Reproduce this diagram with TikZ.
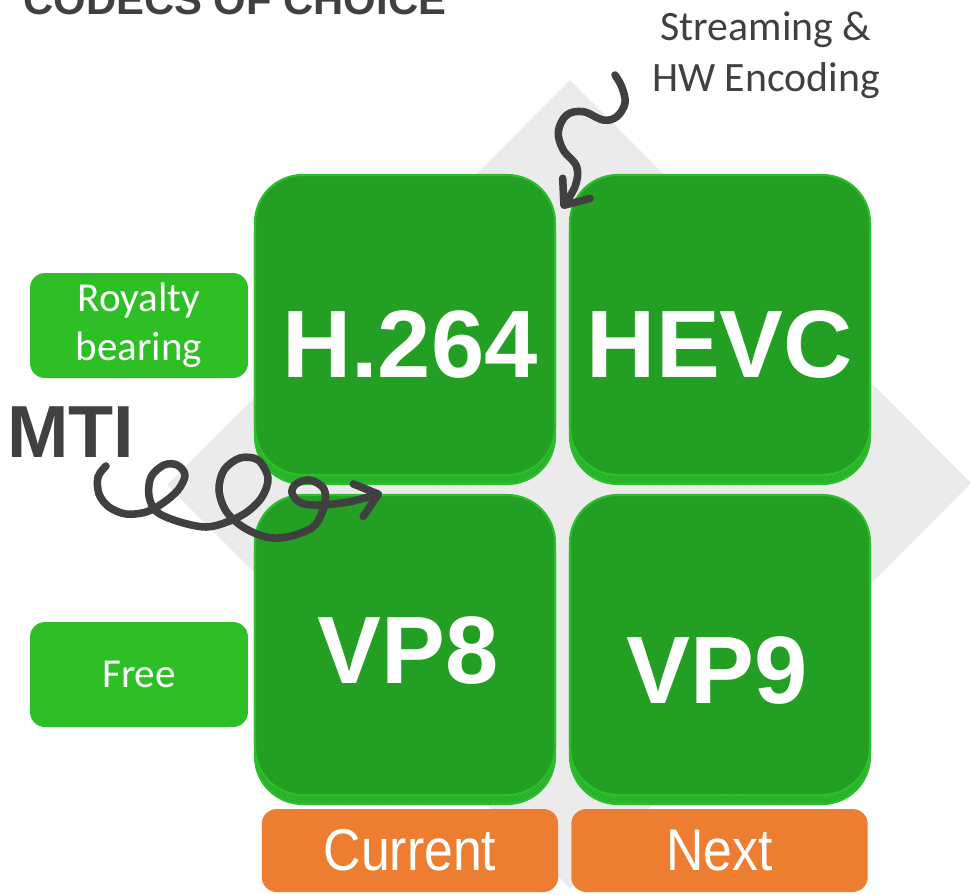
\documentclass[tikz,border=0pt]{standalone}
\usepackage{fontspec}
\setmainfont{Carlito}
\newfontfamily\boldsans{Liberation Sans}
\newfontfamily\narrowsans[FakeStretch=0.88]{Liberation Sans}
\usepackage{tikz}
\usetikzlibrary{arrows.meta, patterns}
\definecolor{codecgreen}{HTML}{23A023}
\definecolor{codecrim}{HTML}{2DBE2D}
\definecolor{codeclow}{HTML}{29B029}
\definecolor{tagfill}{HTML}{2EBF27}
\definecolor{stagefill}{HTML}{ED7D31}
\definecolor{backdrop}{HTML}{EBEBEB}
\definecolor{ink}{HTML}{404040}

\begin{document}
\begin{tikzpicture}[
    x=0.02cm, y=-0.02cm,
    codec/.style={rectangle, rounded corners=0.95cm, minimum width=6cm, minimum height=6cm,
        inner sep=0pt, fill=codecgreen, draw=codecrim, line width=1.2pt,
        preaction={fill=codeclow, draw=codecrim, transform canvas={yshift=-0.18cm}},
        preaction={pattern=north east lines, pattern color=codecrim, transform canvas={yshift=-0.18cm}}},
    codecname/.style={inner sep=0pt, text=white, font=\boldsans\bfseries\fontsize{54.5pt}{62pt}\selectfont},
    tag/.style={rectangle, rounded corners=0.3cm, fill=tagfill, minimum width=4.36cm,
        minimum height=2.1cm, text=white, align=center, font=\fontsize{23.4pt}{28pt}\selectfont},
    stage/.style={rectangle, rounded corners=0.3cm, fill=stagefill, minimum width=5.93cm,
        minimum height=1.66cm, text=white, font=\narrowsans\fontsize{33.5pt}{40pt}\selectfont},
    squiggle/.style={draw=ink, line width=4.3pt, line cap=round, line join=round,
        -{Straight Barb[length=0.42cm, width=0.68cm, round]}}
]
    \useasboundingbox (0,0) rectangle (971,894);

    % backdrop diamond
    \fill[backdrop] (570,80) -- (971,483) -- (570,888) -- (167,485) -- cycle;

    % heading, cut by the page edge
    \node[anchor=base west, inner sep=0pt, text=ink,
          font=\boldsans\bfseries\fontsize{23.8pt}{28pt}\selectfont] (title) at (23,14) {CODECS OF CHOICE};

    % the 2x2 grid
    \node[codec] (h264) at (405,325) {};
    \node[codec] (hevc) at (720,325) {};
    \node[codec] (vp8) at (405,645) {};
    \node[codec] (vp9) at (720,645) {};
    \node[codecname] (h264name) at (410,345) {H.264};
    \node[codecname] (hevcname) at (720,345) {HEVC};
    \node[codecname] (vp8name) at (408,651) {VP8};
    \node[codecname] (vp9name) at (717,671) {VP9};

    % row and column labels
    \node[tag] (royalty) at (139,325.5) {Royalty\\bearing};
    \node[tag] (free) at (139,674.5) {Free};
    \node[stage] (current) at (410,850.5) {Current};
    \node[stage] (next) at (719.5,850.5) {Next};

    % notes with hand drawn arrows
    \node[anchor=north, inner sep=0pt, align=center, text=ink,
          font=\fontsize{23.8pt}{29.5pt}\selectfont] (hwnote) at (766,11) {Streaming \&\\HW Encoding};
    \node[anchor=base west, inner sep=0pt, text=ink,
          font=\boldsans\bfseries\fontsize{42pt}{48pt}\selectfont] (mti) at (7,457) {MTI};

    \coordinate (hwtail) at (615,75);
    \coordinate (hwhead) at (561.7,208.3);
    \coordinate (mtitail) at (106,466);
    \coordinate (mtihead) at (382,493);

    \draw[squiggle] plot[smooth, tension=0.6] coordinates {(hwtail) (621.7,86.7) (625,103)
        (616.7,116.7) (603.3,120) (583.3,111.7) (566.7,115) (558.3,131.7) (563.3,150)
        (576.7,166.7) (575,186.7) (hwhead)};
    \draw[squiggle] plot[smooth, tension=0.55] coordinates {(mtitail) (98,477) (99,494)
        (109,507) (126,514) (146,512) (163,503) (178,490) (185,475)
        (177,465) (164,465) (151,477) (149,496) (157,512) (180,522)
        (206,527) (227,522) (247,512) (262,497) (268,478) (258,460)
        (240,458) (224,470) (219,490) (226,511) (243,527) (266,537) (287,537)
        (313,527) (324,507) (324,489) (310,480) (296,484) (292,493)
        (301,503) (320,505) (350,501.7) (mtihead)};
\end{tikzpicture}
\end{document}
